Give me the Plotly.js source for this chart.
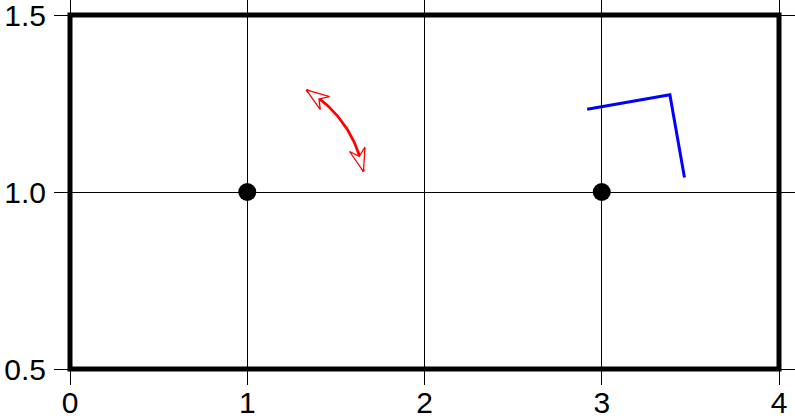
<!DOCTYPE html>
<html>
<head>
<meta charset="utf-8">
<script src="https://cdn.plot.ly/plotly-3.0.1.min.js"></script>
<style>html,body{margin:0;padding:0;background:#fff;}#plot{width:795px;height:419px;}</style>
</head>
<body>
<div id="plot"></div>
<script>
// ---- data ----
const pointX = [1, 3];
const pointY = [1, 1];
const xTickVals = [0, 1, 2, 3, 4];
const xTickText = ["0", "1", "2", "3", "4"];
const yTickVals = [0.5, 1.0, 1.5];
const yTickText = ["0.5", "1.0", "1.5"];
const arcAngles = [10, 60];      // degrees, red double-headed curved arrow around first point
const rightAngles = [10, 100];   // degrees, blue right-angle marker around second point

// ---- geometry / style constants ----
const W = 795, H = 419;
const M = {l: 70, r: 16, t: 15, b: 50};
const xRange = [0, 4], yRange = [0.5, 1.5];
const pxPerX = (W - M.l - M.r) / (xRange[1] - xRange[0]);
const pxPerY = (H - M.t - M.b) / (yRange[1] - yRange[0]);
const arcRadiusPx = 118;
const legPx = 84;
const headLen = 23, headHalf = 8, notchFrac = 0.68;

function toData(cx, cy, dxPx, dyPx) { return [cx + dxPx / pxPerX, cy + dyPx / pxPerY]; }
const rad = d => d * Math.PI / 180;

// red arc
const cx1 = pointX[0], cy1 = pointY[0];
const arcX = [], arcY = [];
const nSeg = 60;
for (let i = 0; i <= nSeg; i++) {
  const a = rad(arcAngles[0] + (arcAngles[1] - arcAngles[0]) * i / nSeg);
  const p = toData(cx1, cy1, arcRadiusPx * Math.cos(a), arcRadiusPx * Math.sin(a));
  arcX.push(p[0]); arcY.push(p[1]);
}
function head(angleDeg, dirSign) {
  const a = rad(angleDeg);
  const tip = [arcRadiusPx * Math.cos(a), arcRadiusPx * Math.sin(a)];
  const b = a + dirSign * headLen / arcRadiusPx;
  const back = [arcRadiusPx * Math.cos(b), arcRadiusPx * Math.sin(b)];
  let ux = back[0] - tip[0], uy = back[1] - tip[1];
  const L = Math.hypot(ux, uy); ux /= L; uy /= L;
  const nx = -uy, ny = ux;
  const pts = [
    tip,
    [tip[0] + ux * headLen + nx * headHalf, tip[1] + uy * headLen + ny * headHalf],
    [tip[0] + ux * headLen * notchFrac, tip[1] + uy * headLen * notchFrac],
    [tip[0] + ux * headLen - nx * headHalf, tip[1] + uy * headLen - ny * headHalf],
    tip
  ];
  const xs = [], ys = [];
  pts.forEach(p => { const d = toData(cx1, cy1, p[0], p[1]); xs.push(d[0]); ys.push(d[1]); });
  return {xs, ys};
}
const h1 = head(arcAngles[0], 1);
const h2 = head(arcAngles[1], -1);

// blue right-angle marker
const cx2 = pointX[1], cy2 = pointY[1];
const a1 = rad(rightAngles[0]), a2 = rad(rightAngles[1]);
const v1 = [legPx * Math.cos(a1), legPx * Math.sin(a1)];
const v2 = [legPx * Math.cos(a2), legPx * Math.sin(a2)];
const raPx = [v1, [v1[0] + v2[0], v1[1] + v2[1]], v2];
const raX = [], raY = [];
raPx.forEach(p => { const d = toData(cx2, cy2, p[0], p[1]); raX.push(d[0]); raY.push(d[1]); });

const traces = [
  {x: arcX, y: arcY, mode: 'lines', line: {color: '#ff0000', width: 2.7}, hoverinfo: 'skip'},
  {x: h1.xs, y: h1.ys, mode: 'lines', fill: 'toself', fillcolor: '#ffffff', line: {color: '#ff0000', width: 1.3}, hoverinfo: 'skip'},
  {x: h2.xs, y: h2.ys, mode: 'lines', fill: 'toself', fillcolor: '#ffffff', line: {color: '#ff0000', width: 1.3}, hoverinfo: 'skip'},
  {x: raX, y: raY, mode: 'lines', line: {color: '#0000ff', width: 3}, hoverinfo: 'skip'},
  {x: pointX, y: pointY, mode: 'markers', marker: {color: '#000000', size: 18}, hoverinfo: 'skip'}
];

const font = {family: 'Liberation Sans, Arial, sans-serif', size: 30, color: '#000'};
const axisCommon = {
  showline: false, zeroline: false, showgrid: true, gridcolor: '#000', gridwidth: 1,
  ticks: 'outside', ticklen: 15, tickwidth: 1, tickcolor: '#000', mirror: 'allticks',
  tickfont: font, tickmode: 'array', fixedrange: true, ticklabeloverflow: 'allow'
};
const layout = {
  width: W, height: H, margin: M, showlegend: false,
  paper_bgcolor: '#fff', plot_bgcolor: '#fff',
  xaxis: Object.assign({}, axisCommon, {range: xRange, tickvals: xTickVals, ticktext: xTickText, ticklabelstandoff: -8}),
  yaxis: Object.assign({}, axisCommon, {range: yRange, tickvals: yTickVals, ticktext: yTickText, ticklabelstandoff: 2}),
  shapes: [{type: 'rect', xref: 'paper', yref: 'paper', x0: 0, x1: 1, y0: 0, y1: 1,
            line: {color: '#000', width: 5}, fillcolor: 'rgba(0,0,0,0)', layer: 'above'}]
};
Plotly.newPlot('plot', traces, layout, {staticPlot: true, displayModeBar: false});
</script>
</body>
</html>
